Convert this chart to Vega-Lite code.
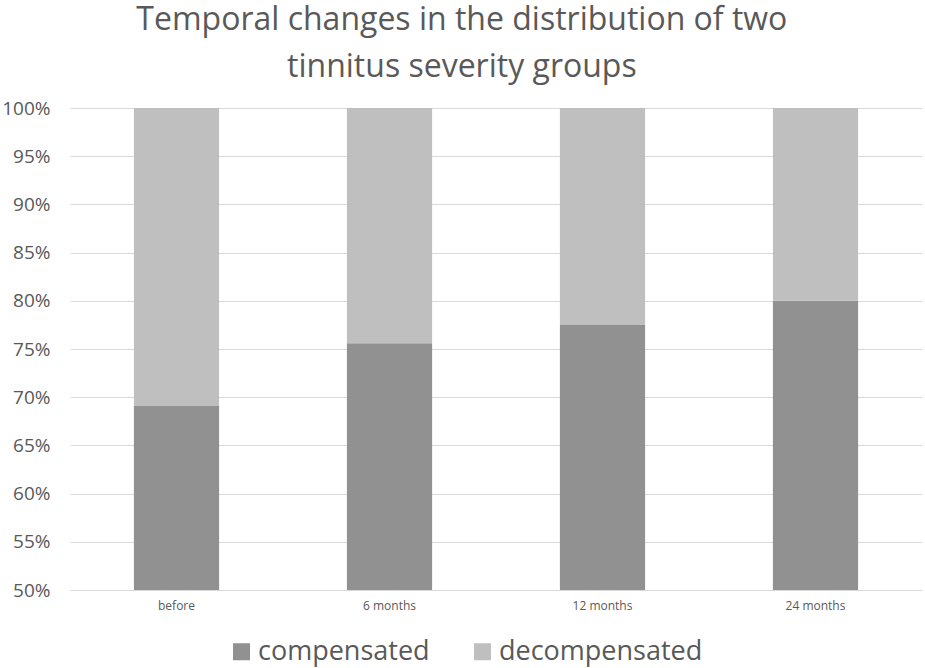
{
  "$schema": "https://vega.github.io/schema/vega-lite/v6.json",
  "autosize": "none",
  "width": 852,
  "height": 482,
  "padding": {"left": 70, "top": 108, "right": 3, "bottom": 78},
  "background": "white",
  "title": {
    "text": ["Temporal changes in the distribution of two", "tinnitus severity groups"],
    "font": "Open Sans",
    "fontSize": 32,
    "fontWeight": "normal",
    "color": "#595959",
    "lineHeight": 47,
    "anchor": "middle",
    "frame": "bounds",
    "offset": 15
  },
  "data": {
    "values": [
      {"period": "before", "group": "compensated", "share": 0.691},
      {"period": "before", "group": "decompensated", "share": 0.309},
      {"period": "6 months", "group": "compensated", "share": 0.756},
      {"period": "6 months", "group": "decompensated", "share": 0.244},
      {"period": "12 months", "group": "compensated", "share": 0.775},
      {"period": "12 months", "group": "decompensated", "share": 0.225},
      {"period": "24 months", "group": "compensated", "share": 0.8},
      {"period": "24 months", "group": "decompensated", "share": 0.2}
    ]
  },
  "mark": {"type": "bar", "clip": true},
  "encoding": {
    "x": {
      "field": "period",
      "type": "nominal",
      "sort": ["before", "6 months", "12 months", "24 months"],
      "scale": {"paddingInner": 0.6, "paddingOuter": 0.3},
      "axis": {
        "title": null,
        "labelAngle": 0,
        "labelFont": "Open Sans",
        "labelFontSize": 12,
        "labelColor": "#595959",
        "labelPadding": 10,
        "ticks": false,
        "domainColor": "#d9d9d9"
      }
    },
    "y": {
      "field": "share",
      "type": "quantitative",
      "stack": "zero",
      "scale": {"domain": [0.5, 1], "nice": false, "zero": false},
      "axis": {
        "title": null,
        "format": ".0%",
        "values": [0.5, 0.55, 0.6, 0.65, 0.7, 0.75, 0.8, 0.85, 0.9, 0.95, 1],
        "labelFont": "Open Sans",
        "labelFontSize": 19,
        "labelColor": "#595959",
        "labelPadding": 20,
        "ticks": false,
        "domain": false,
        "gridColor": "#d9d9d9"
      }
    },
    "color": {
      "field": "group",
      "type": "nominal",
      "scale": {"domain": ["compensated", "decompensated"], "range": ["#919191", "#bfbfbf"]},
      "legend": {
        "title": null,
        "orient": "none",
        "legendX": 158,
        "legendY": 530,
        "direction": "horizontal",
        "symbolType": "square",
        "symbolSize": 289,
        "symbolStrokeWidth": 0,
        "labelFont": "Open Sans",
        "labelFontSize": 27,
        "labelLimit": 0,
        "labelColor": "#595959",
        "labelOffset": 3,
        "columnPadding": 39
      }
    },
    "order": {"field": "group", "sort": "ascending"}
  },
  "config": {
    "view": {"stroke": null},
    "legend": {"symbolOpacity": 1}
  }
}
